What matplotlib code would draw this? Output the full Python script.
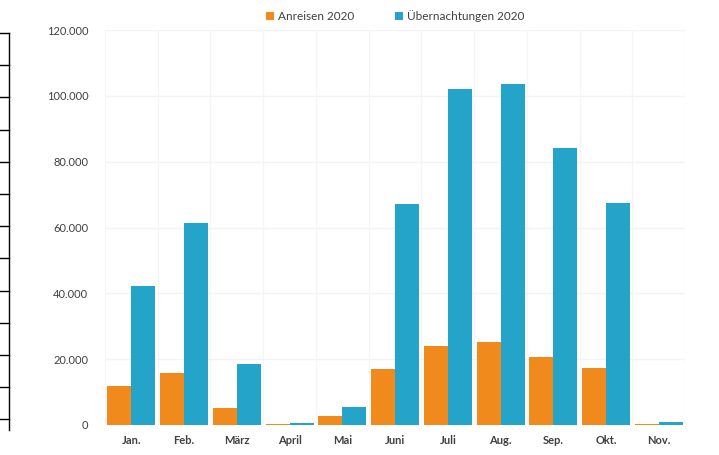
import matplotlib
matplotlib.use("Agg")
import matplotlib.pyplot as plt
import numpy as np
from matplotlib.lines import Line2D
from matplotlib.ticker import FuncFormatter

months = ["Jan.", "Feb.", "März", "April", "Mai", "Juni", "Juli", "Aug.", "Sep.", "Okt.", "Nov."]
anreisen = [11800, 15800, 5200, 200, 2700, 17000, 24000, 25200, 20600, 17300, 300]
uebernachtungen = [42100, 61500, 18500, 600, 5500, 67000, 102000, 103600, 84200, 67500, 1000]
yticks = [0, 20000, 40000, 60000, 80000, 100000, 120000]
series_labels = ["Anreisen 2020", "Übernachtungen 2020"]

plt.rcParams['font.family'] = ['Lato', 'DejaVu Sans']

fig = plt.figure(figsize=(7.19, 4.55), dpi=100)
ax = fig.add_axes([0.146, 0.066, 0.807, 0.868])

x = np.arange(len(months))
w = 0.455
c_or = '#F08A1C'
c_bl = '#25A4CA'
ax.bar(x - w/2, anreisen, width=w, color=c_or, label=series_labels[0], zorder=3)
ax.bar(x + w/2, uebernachtungen, width=w, color=c_bl, label=series_labels[1], zorder=3)

ax.set_xlim(-0.5, len(months) - 0.5)
ax.set_ylim(0, 120000)
ax.set_yticks(yticks)
ax.yaxis.set_major_formatter(FuncFormatter(lambda v, p: f"{int(v):,}".replace(",", ".")))
ax.set_xticks(x)
ax.set_xticklabels(months, fontsize=8, fontweight='bold', color='#404040')
ax.tick_params(axis='y', labelsize=8, colors='#404040', length=0, pad=12)
ax.tick_params(axis='x', length=0, pad=7)

ax.set_xticks(np.arange(-0.5, len(months), 1), minor=True)
ax.grid(which='minor', axis='x', color='#f5f5f5', lw=1, zorder=0)
ax.grid(which='major', axis='y', color='#f3f3f3', lw=1, zorder=0)
ax.tick_params(which='minor', length=0)
for s in ax.spines.values():
    s.set_visible(False)

ax.legend(loc='lower center', bbox_to_anchor=(0.5, 1.0), ncol=2, frameon=False,
          fontsize=8.5, handlelength=0.7, handleheight=0.7, handletextpad=0.3,
          columnspacing=3.5, labelcolor='#404040', borderaxespad=0.3)

# cropped table edge on the left
H = 455.0
fig.add_artist(Line2D([9/719, 9/719], [1 - 33/H, 1 - 430/H], color='black', lw=1))
for k in range(13):
    yy = 33 + k * 32.2
    fig.add_artist(Line2D([0, 9/719], [1 - yy/H, 1 - yy/H], color='black', lw=1))

fig.savefig("out.png", dpi=100)
